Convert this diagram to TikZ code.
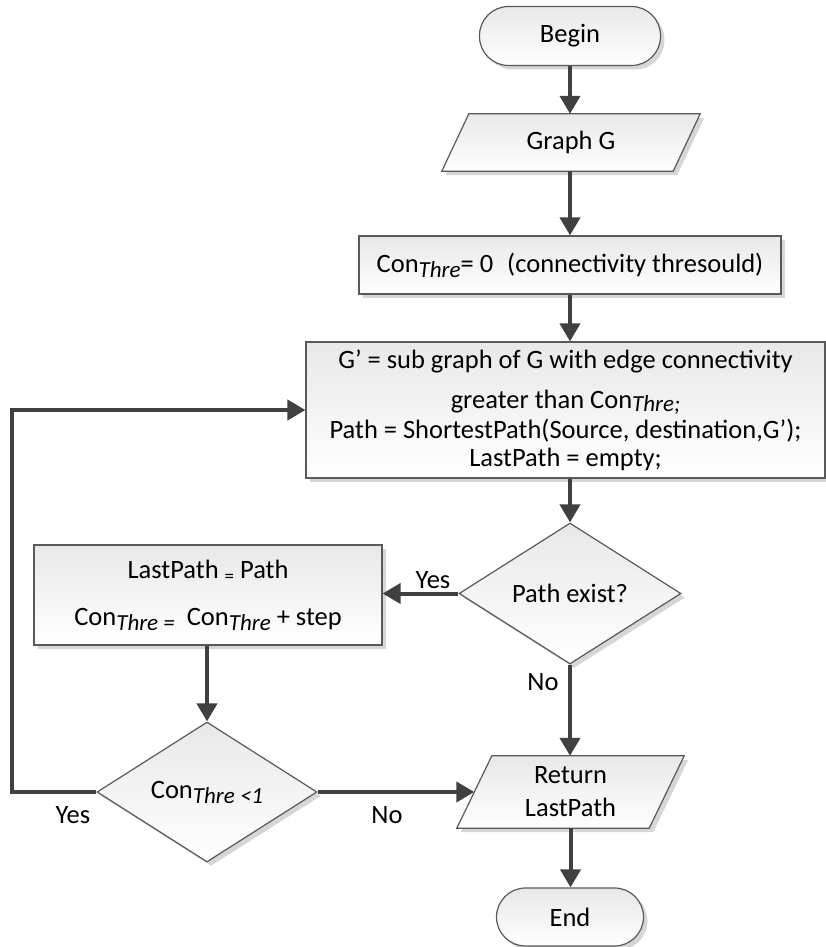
\documentclass[tikz,border=0pt]{standalone}
\usepackage{fontspec}
\setmainfont{Carlito}
\usetikzlibrary{arrows.meta,shapes.geometric,shadows,backgrounds}

% italic lowered index, as in Con_Thre
\newcommand{\idx}[2][-5pt]{\raisebox{#1}{\fontsize{23}{23}\selectfont\itshape #2}}
% small lowered equals sign
\newcommand{\loweq}{\raisebox{-4pt}{\fontsize{19}{19}\selectfont =}}

\tikzset{
  txt/.style={inner sep=0pt, align=center, text=black,
    font=\fontsize{26.5}{28}\selectfont},
  shade box/.style={draw=black!65, line width=1.2pt,
    top color=black!9, bottom color=white,
    drop shadow={shadow xshift=4pt, shadow yshift=-4pt, fill=black!16, opacity=1}},
  procbox/.style={txt, shade box, rectangle},
  termbox/.style={txt, shade box, rectangle, rounded corners=29pt},
  decision/.style={txt, shade box, diamond},
  flow/.style={draw=black!75, line width=4pt,
    -{Triangle[width=20pt,length=18pt]}},
  lbl/.style={txt}
}

\begin{document}
\begin{tikzpicture}[x=1pt,y=-1pt]
\useasboundingbox (0,0) rectangle (826,947);

% terminals and process boxes
\node[termbox, minimum width=181pt, minimum height=59pt] (begin) at (570,36) {Begin};
\node[txt, minimum width=231pt, minimum height=57pt] (graph) at (571,142.5) {Graph G};
\node[procbox, minimum width=422pt, minimum height=58pt] (init) at (570,265)
  {Con\idx{Thre}= 0\hspace{14pt}(connectivity thresould)};
\node[procbox, minimum width=519pt, minimum height=136pt] (sub) at (565.5,410)
  {G’ = sub graph of G with edge connectivity\\[12pt]
   greater than Con\idx[-3pt]{Thre;}\\[2pt]
   Path = ShortestPath(Source, destination,G’);\\
   LastPath = empty;};
\node[decision, minimum width=222pt, minimum height=141pt] (exist) at (570,593.5) {Path exist?};
\node[procbox, minimum width=348pt, minimum height=100pt] (update) at (208,595)
  {LastPath \loweq{} Path\\[19pt]
   Con\idx{Thre =}\ \ Con\idx{Thre} + step};
\node[decision, minimum width=220pt, minimum height=140pt] (less) at (207,792) {Con\idx{Thre <1}};
\node[txt, minimum width=192pt, minimum height=72pt] (ret) at (570.5,792) {Return\\[5pt]LastPath};
\node[termbox, minimum width=147pt, minimum height=58pt] (end) at (570,917) {End};

% input/output parallelograms behind their labels
\begin{pgfonlayer}{background}
  \path[shade box] ([xshift=13.5pt]graph.north west) -- ([xshift=13.5pt]graph.north east)
    -- ([xshift=-13.5pt]graph.south east) -- ([xshift=-13.5pt]graph.south west) -- cycle;
  \path[shade box] ([xshift=17.5pt]ret.north west) -- ([xshift=17.5pt]ret.north east)
    -- ([xshift=-17.5pt]ret.south east) -- ([xshift=-17.5pt]ret.south west) -- cycle;
\end{pgfonlayer}

\coordinate (loop) at (12,0);

% connectors
\draw[flow] (begin.south) -- (begin.south |- graph.north);
\draw[flow] (graph.south -| begin.south) -- (init.north);
\draw[flow] (init.south) -- (init.south |- sub.north);
\draw[flow] (exist.north |- sub.south) -- (exist.north);
\draw[flow] (exist.west) -- (exist.west -| update.east);
\draw[flow] (exist.south) -- (exist.south |- ret.north);
\draw[flow] (update.south -| less.north) -- (less.north);
\draw[flow] (less.east) -- (less.east -| ret.west);
\draw[flow] (less.west) -- (less.west -| loop) |- (sub.west);
\draw[flow] (ret.south) -- (ret.south |- end.north);

% branch labels
\node[lbl] (yes1) at (433,580) {Yes};
\node[lbl] (no1) at (543,682) {No};
\node[lbl] (yes2) at (73,815) {Yes};
\node[lbl] (no2) at (387,815) {No};
\end{tikzpicture}
\end{document}
